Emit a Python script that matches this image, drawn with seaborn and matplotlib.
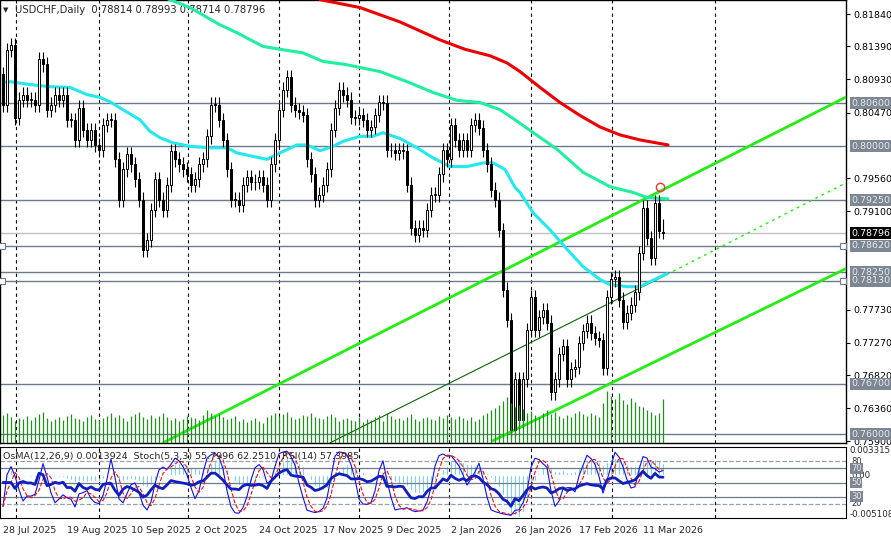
import matplotlib
matplotlib.use("Agg")
import matplotlib.pyplot as plt
import matplotlib.transforms as mtransforms
import seaborn as sns
import numpy as np
import pandas as pd

# daily closes USDCHF, 28 Jul 2025 .. 19 Mar 2026
closes = [
    0.8058, 0.8134, 0.8141, 0.8040, 0.8065, 0.8072, 0.8065, 0.8065, 0.8058, 0.8121,
    0.8114, 0.8051, 0.8058, 0.8072, 0.8065, 0.8072, 0.8037, 0.8037, 0.8009, 0.8054,
    0.8023, 0.8009, 0.8023, 0.8002, 0.7995, 0.8030, 0.8037, 0.8037, 0.7982, 0.7926,
    0.7968, 0.7989, 0.7975, 0.7954, 0.7926, 0.7856, 0.7870, 0.7912, 0.7954, 0.7926,
    0.7912, 0.7947, 0.7993, 0.7982, 0.7975, 0.7968, 0.7961, 0.7947, 0.7954, 0.7975,
    0.7982, 0.8014, 0.8058, 0.8058, 0.8037, 0.8009, 0.7968, 0.7926, 0.7926, 0.7919,
    0.7947, 0.7957, 0.7950, 0.7951, 0.7957, 0.7947, 0.7926, 0.7975, 0.8009, 0.8051,
    0.8079, 0.8096, 0.8058, 0.8051, 0.8048, 0.8044, 0.7982, 0.7961, 0.7926, 0.7933,
    0.7947, 0.7968, 0.8023, 0.8054, 0.8079, 0.8072, 0.8065, 0.8041, 0.8040, 0.8044,
    0.8037, 0.8023, 0.8027, 0.8044, 0.8062, 0.8061, 0.7995, 0.7995, 0.7991, 0.7995,
    0.7993, 0.7947, 0.7887, 0.7877, 0.7887, 0.7884, 0.7912, 0.7933, 0.7933, 0.7961,
    0.7995, 0.7982, 0.8030, 0.8009, 0.7995, 0.8009, 0.7995, 0.8030, 0.8037, 0.8026,
    0.7995, 0.7975, 0.7940, 0.7926, 0.7884, 0.7801, 0.7759, 0.7606, 0.7676, 0.7620,
    0.7676, 0.7745, 0.7791, 0.7745, 0.7763, 0.7773, 0.7755, 0.7658, 0.7676, 0.7711,
    0.7722, 0.7676, 0.7690, 0.7694, 0.7727, 0.7743, 0.7755, 0.7741, 0.7734, 0.7731,
    0.7692, 0.7791, 0.7815, 0.7818, 0.7787, 0.7756, 0.7769, 0.7780, 0.7797, 0.7852,
    0.7915, 0.7873, 0.7845, 0.7922, 0.7882, 0.78796,
]
first_open = 0.8100
last_ohlc = [0.78814, 0.78993, 0.78714, 0.78796]

volumes = [
    28, 30, 26, 22, 25, 24, 27, 23, 26, 29, 31, 25, 22, 24, 26, 23, 27, 29, 25, 24,
    22, 26, 28, 24, 23, 25, 27, 30, 26, 28, 25, 22, 27, 29, 31, 26, 24, 28, 25, 27,
    30, 26, 23, 25, 22, 24, 27, 26, 25, 23, 28, 33, 30, 27, 29, 26, 24, 25, 27, 22,
    24, 21, 23, 25, 22, 20, 26, 28, 30, 27, 29, 31, 26, 24, 25, 28, 27, 30, 26, 25,
    24, 27, 29, 26, 22, 24, 25, 23, 22, 26, 21, 24, 23, 26, 28, 22, 30, 27, 24, 25,
    23, 26, 29, 24, 22, 25, 26, 24, 23, 27, 25, 28, 26, 24, 27, 25, 23, 26, 22, 24,
    28, 30, 33, 35, 38, 42, 46, 40, 36, 38, 34, 30, 32, 28, 26, 30, 33, 29, 31, 27,
    25, 28, 26, 30, 32, 29, 27, 30, 28, 26, 40, 52, 47, 44, 50, 43, 39, 45, 41, 37,
    36, 33, 31, 28, 30, 44,
]

# moving averages as read (bar index, price)
ma_fast_idx = [0, 1.75, 6.75, 11.75, 16.75, 21, 24.25, 26.75, 30, 34.25, 36.75, 39.25, 42.5,
               46.75, 51.75, 56, 58.5, 61.75, 66, 69.25, 73.5, 76, 79.25, 82.5, 85, 89.25,
               92.5, 95, 99.25, 103.5, 107.5, 111.75, 116, 120, 122.5, 125.5, 128, 129.25,
               132.5, 136.75, 141, 145, 149.25, 151.75, 156, 159.25, 161.75, 166]
ma_fast = [0.8089, 0.8090, 0.8086, 0.8083, 0.8082, 0.8072, 0.8068, 0.8062, 0.8051, 0.8037,
           0.8021, 0.8012, 0.8005, 0.8000, 0.7998, 0.7998, 0.7991, 0.7987, 0.7982, 0.7991,
           0.8002, 0.8002, 0.7994, 0.8000, 0.8007, 0.8014, 0.8014, 0.8019, 0.8011, 0.7998,
           0.7984, 0.7972, 0.7972, 0.7977, 0.7977, 0.7968, 0.7943, 0.7936, 0.7908, 0.7884,
           0.7857, 0.7833, 0.7815, 0.7808, 0.7805, 0.7805, 0.7812, 0.7823]
ma_mid_idx = [36, 41.75, 46.75, 54.25, 58.5, 65, 69.25, 75, 80, 85.5, 94.25, 101, 107.5,
              113.5, 119.25, 124.25, 128, 138.5, 145, 151.75, 157.5, 161, 166.25]
ma_mid = [0.8215, 0.8204, 0.8193, 0.8169, 0.8158, 0.8139, 0.8135, 0.8130, 0.8118, 0.8114,
          0.8104, 0.8090, 0.8075, 0.8064, 0.8061, 0.8051, 0.8037, 0.7996, 0.7964, 0.7944,
          0.7936, 0.7929, 0.7927]
ma_slow_idx = [79.25, 89.25, 99.25, 109.25, 115.5, 121.75, 126, 129.25, 134.25, 139.25,
               144.25, 149.25, 154.25, 159.25, 166.25]
ma_slow = [0.8204, 0.8193, 0.8173, 0.8148, 0.8135, 0.8126, 0.8116, 0.8104, 0.8082, 0.8061,
           0.8043, 0.8027, 0.8016, 0.8009, 0.8002]

# channel lines (bar index, price)
chan_upper = ([40, 216.25], [0.7588, 0.8084])
chan_lower = ([122.5, 216.25], [0.7591, 0.7845])
chan_mid = ([81.75, 166], [0.7588, 0.7822])
chan_mid_ext = ([166, 216.25], [0.7822, 0.7965])

levels = [0.8060, 0.8000, 0.7925, 0.7862, 0.7825, 0.7813, 0.7670, 0.7600]
axis_ticks = [0.81840, 0.81390, 0.80930, 0.80470, 0.79560, 0.79100, 0.77730, 0.77270,
              0.76820, 0.76360, 0.75900]
date_labels = ["28 Jul 2025", "19 Aug 2025", "10 Sep 2025", "2 Oct 2025", "24 Oct 2025",
               "17 Nov 2025", "9 Dec 2025", "2 Jan 2026", "26 Jan 2026", "17 Feb 2026",
               "11 Mar 2026"]
grid_x = [3.25, 24, 46.25, 69, 89, 111.5, 132, 152.25, 178]

LEVEL_C = "#6b7b8c"
BOX_C = "#7d8794"

sns.set_style("white")
plt.rcParams["font.family"] = ["DejaVu Sans"]

n = len(closes)
idx = np.arange(n)
opens = np.array([first_open] + closes[:-1])
cl = np.array(closes)
opens[-1] = last_ohlc[0]
highs = np.maximum(opens, cl) + 0.0010
lows = np.minimum(opens, cl) - 0.0010
highs[-1], lows[-1] = last_ohlc[1], last_ohlc[2]

W, H = 891, 538
fig = plt.figure(figsize=(W / 100, H / 100), dpi=100)
ax = fig.add_axes([0, 1 - 443 / H, 846 / W, 443 / H])
axi = fig.add_axes([0, 1 - 518 / H, 846 / W, 71 / H])
xlim = (-0.75, 210.75)

# volume
axv = ax.twinx()
axv.vlines(idx, 0, volumes, color="#1f8f1f", lw=0.9)
axv.set_ylim(0, 443)
axv.axis("off")

for g in grid_x:
    ax.axvline(g, color="black", ls=(0, (3, 3)), lw=0.8, zorder=1)
    axi.axvline(g, color="black", ls=(0, (3, 3)), lw=0.8, zorder=1)

for lv in levels:
    ax.axhline(lv, color=LEVEL_C, lw=1, zorder=2)
ax.axhline(last_ohlc[3], color="#c0c0c0", lw=1, zorder=2)
for lv in (0.7862, 0.7813):
    for xx in (-0.25, 210.1):
        ax.plot(xx, lv, marker="s", ms=4, mfc="white", mec=LEVEL_C, mew=0.8, zorder=3)

# channel
ax.plot(*chan_upper, color="#22ee11", lw=2, zorder=3)
ax.plot(*chan_lower, color="#22ee11", lw=2, zorder=3)
ax.plot(*chan_mid, color="#0b5f0b", lw=0.8, zorder=3)
ax.plot(*chan_mid_ext, color="#22ee11", lw=1, ls=(0, (2, 3)), zorder=3)

# moving averages
sns.lineplot(x=ma_slow_idx, y=ma_slow, ax=ax, color="#ee0000", lw=2.2, zorder=4)
sns.lineplot(x=ma_mid_idx, y=ma_mid, ax=ax, color="#1ff0a0", lw=2.2, zorder=4)
sns.lineplot(x=ma_fast_idx, y=ma_fast, ax=ax, color="#22e8f0", lw=2.2, zorder=4)

# candles
up = cl >= opens
ax.vlines(idx, lows, highs, color="black", lw=0.8, zorder=5)
ax.bar(idx, np.maximum(np.abs(cl - opens), 0.00005), bottom=np.minimum(opens, cl),
       width=0.6, color=np.where(up, "white", "black"), edgecolor="black", lw=0.7, zorder=6)
ax.plot(164.3, 0.7943, marker="o", ms=6, mfc="none", mec="#ff3030", mew=1, zorder=7)

ax.set_xlim(*xlim)
ax.set_ylim(0.75877, 0.82035)
ax.set_xticks([])
ax.yaxis.tick_right()
ax.set_yticks(axis_ticks)
ax.set_yticklabels([f"{t:.5f}" for t in axis_ticks], fontsize=6.8)
ax.tick_params(axis="y", length=3, pad=2, colors="black")
for s in ax.spines.values():
    s.set_color("black")
    s.set_linewidth(1)

blend = mtransforms.blended_transform_factory(ax.transAxes, ax.transData)
for lv in levels:
    ax.text(1.006, lv, f"{lv:.5f}", transform=blend, fontsize=6.8, color="#e8e8e8",
            va="center", ha="left",
            bbox=dict(boxstyle="square,pad=0.15", fc=BOX_C, ec="none"))
ax.text(1.006, last_ohlc[3], f"{last_ohlc[3]:.5f}", transform=blend, fontsize=6.8,
        color="white", va="center", ha="left",
        bbox=dict(boxstyle="square,pad=0.15", fc="black", ec="none"))

ax.text(0.004, 0.985, "\u25bc", transform=ax.transAxes, fontsize=5, va="top")
ax.text(0.018, 0.988, "USDCHF,Daily  0.78814 0.78993 0.78714 0.78796",
        transform=ax.transAxes, fontsize=7.2, va="top")

# indicators computed from the closes
s = pd.Series(cl)
macd = s.ewm(span=12, adjust=False).mean() - s.ewm(span=26, adjust=False).mean()
osma = macd - macd.rolling(9, min_periods=1).mean()
hh = pd.Series(highs).rolling(5, min_periods=1).max()
ll = pd.Series(lows).rolling(5, min_periods=1).min()
k = 100 * (s - ll).rolling(3, min_periods=1).sum() / (hh - ll).rolling(3, min_periods=1).sum()
d = k.rolling(3, min_periods=1).mean()
delta = s.diff().fillna(0)
gain = delta.clip(lower=0).ewm(alpha=1 / 14, adjust=False).mean()
loss = (-delta.clip(upper=0)).ewm(alpha=1 / 14, adjust=False).mean()
rsi = 100 - 100 / (1 + gain / loss.replace(0, np.nan))
rsi = rsi.fillna(50)

axm = axi.twinx()
axm.bar(idx, osma, width=0.7, color="#18b8f0", zorder=2)
axm.set_ylim(-0.005108, 0.003315)
axm.axis("off")

for lv, st in ((80, "--"), (70, "-"), (50, "-"), (30, "-"), (20, "--")):
    axi.axhline(lv, color="#9aa0a8" if st == "--" else LEVEL_C, lw=0.9, ls=st, zorder=1)
axi.set_zorder(axm.get_zorder() + 1)
axi.patch.set_visible(False)
sns.lineplot(x=idx, y=k, ax=axi, color="#1010ee", lw=0.8)
sns.lineplot(x=idx, y=d, ax=axi, color="#ee1010", lw=0.8, ls="--")
sns.lineplot(x=idx, y=rsi, ax=axi, color="#1020c0", lw=2)
axi.set_xlim(*xlim)
axi.set_ylim(0, 100)
axi.set_yticks([])
axi.set_xticks(np.arange(0, 161, 16))
axi.set_xticklabels(date_labels, fontsize=6.8, ha="left")
axi.tick_params(axis="x", length=3, pad=3)
for s_ in axi.spines.values():
    s_.set_color("black")
axi.text(0.003, 0.93, "OsMA(12,26,9) 0.0013924  Stoch(5,3,3) 55.7996 62.2510  RSI(14) 57.3985",
         transform=axi.transAxes, fontsize=6.8, va="top", zorder=10)

bl = mtransforms.blended_transform_factory(axi.transAxes, axi.transData)
axi.text(1.004, 101, "0.003315", transform=bl, fontsize=6.2, va="top")
axi.text(1.004, -1, "-0.005108", transform=bl, fontsize=6.2, va="bottom")
axi.text(1.006, 60, "0.00", transform=bl, fontsize=6.2, va="center")
for lv in (80, 20):
    axi.text(1.006, lv, str(lv), transform=bl, fontsize=6, va="center", color="#333333")
for lv in (70, 50, 30):
    axi.text(1.006, lv, str(lv), transform=bl, fontsize=6, va="center", color="#e8e8e8",
             bbox=dict(boxstyle="square,pad=0.1", fc=BOX_C, ec="none"))

fig.savefig("out.png", dpi=100, facecolor="white")
